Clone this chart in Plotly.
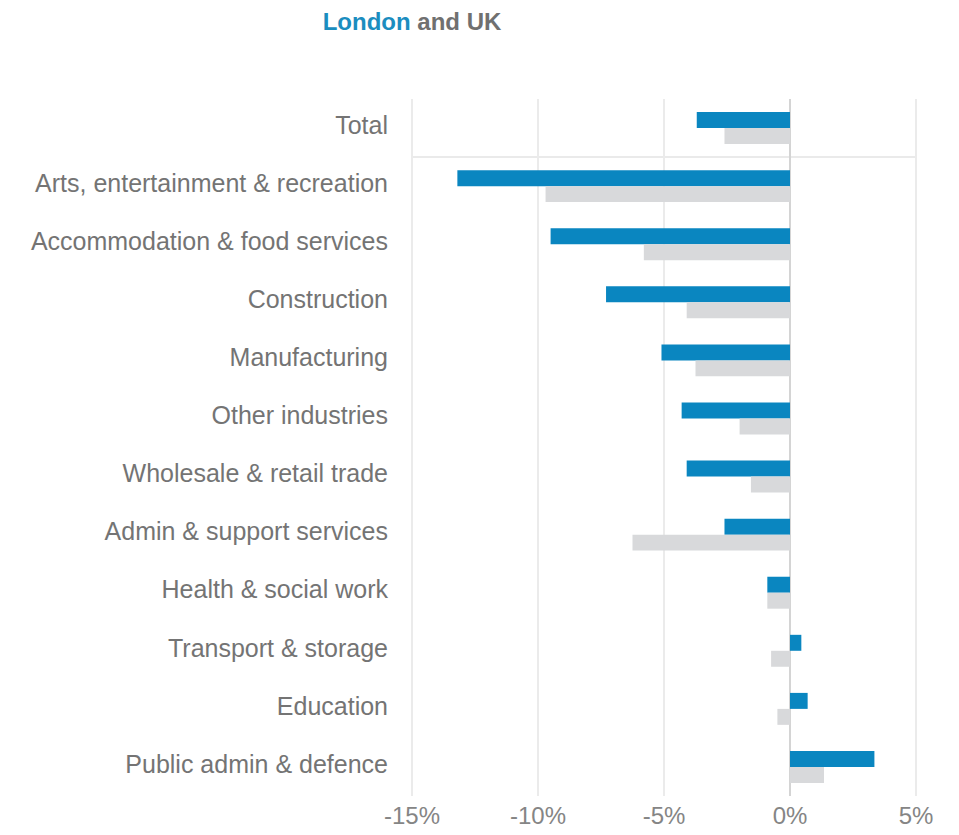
import plotly.graph_objects as go

# Change in workforce jobs by industry, London vs UK (%)
industries = [
    "Total",
    "Arts, entertainment & recreation",
    "Accommodation & food services",
    "Construction",
    "Manufacturing",
    "Other industries",
    "Wholesale & retail trade",
    "Admin & support services",
    "Health & social work",
    "Transport & storage",
    "Education",
    "Public admin & defence",
]
london = [-3.7, -13.2, -9.5, -7.3, -5.1, -4.3, -4.1, -2.6, -0.9, 0.45, 0.7, 3.35]
uk = [-2.6, -9.7, -5.8, -4.1, -3.75, -2.0, -1.55, -6.25, -0.9, -0.75, -0.5, 1.35]

x_ticks = [-15, -10, -5, 0, 5]
x_tick_labels = ["-15%", "-10%", "-5%", "0%", "5%"]

BLUE = "#0a86c0"
GREY_BAR = "#d8d9db"
FONT = "Liberation Sans, Arial, sans-serif"

fig = go.Figure()
fig.add_trace(go.Bar(
    y=industries, x=london, orientation="h", name="London",
    marker=dict(color=BLUE, line=dict(width=0)),
))
fig.add_trace(go.Bar(
    y=industries, x=uk, orientation="h", name="UK",
    marker=dict(color=GREY_BAR, line=dict(width=0)),
))

# separator line between the total and the individual industries
fig.add_shape(
    type="line", xref="x", yref="y",
    x0=x_ticks[0], x1=x_ticks[-1], y0=0.5, y1=0.5,
    line=dict(color="#e3e3e3", width=1.5),
    layer="below",
)

fig.update_layout(
    width=959, height=835,
    margin=dict(l=411, r=42, t=99, b=39),
    paper_bgcolor="white", plot_bgcolor="white",
    barmode="group", bargap=0.45, bargroupgap=0,
    showlegend=False,
    font=dict(family=FONT, size=25, color="#747474"),
    title=dict(
        text=("<b><span style='color:#1b8dbf'>London</span>"
              " <span style='color:#707070'>and UK</span></b>"),
        font=dict(family=FONT, size=24),
        xref="container", yref="container",
        x=412 / 959, xanchor="center",
        y=1 - 22 / 835, yanchor="middle",
    ),
)

fig.update_xaxes(
    range=[x_ticks[0] - 0.04, x_ticks[-1] + 0.04],
    tickvals=x_ticks, ticktext=x_tick_labels,
    showgrid=True, gridcolor="#ebebeb", gridwidth=1.5,
    zeroline=True, zerolinecolor="#d4d4d4", zerolinewidth=1.5,
    showline=False, ticks="",
    tickfont=dict(family=FONT, size=24, color="#858585"),
    ticklabelstandoff=3,
    automargin=False,
)
fig.update_yaxes(
    categoryorder="array", categoryarray=industries,
    range=[len(industries) - 0.5, -0.5],
    showgrid=False, zeroline=False, showline=False, ticks="",
    tickfont=dict(family=FONT, size=25, color="#747474"),
    ticklabelstandoff=22,
    ticklabelshift=3,
    automargin=False,
)

fig.write_html("out.html")
